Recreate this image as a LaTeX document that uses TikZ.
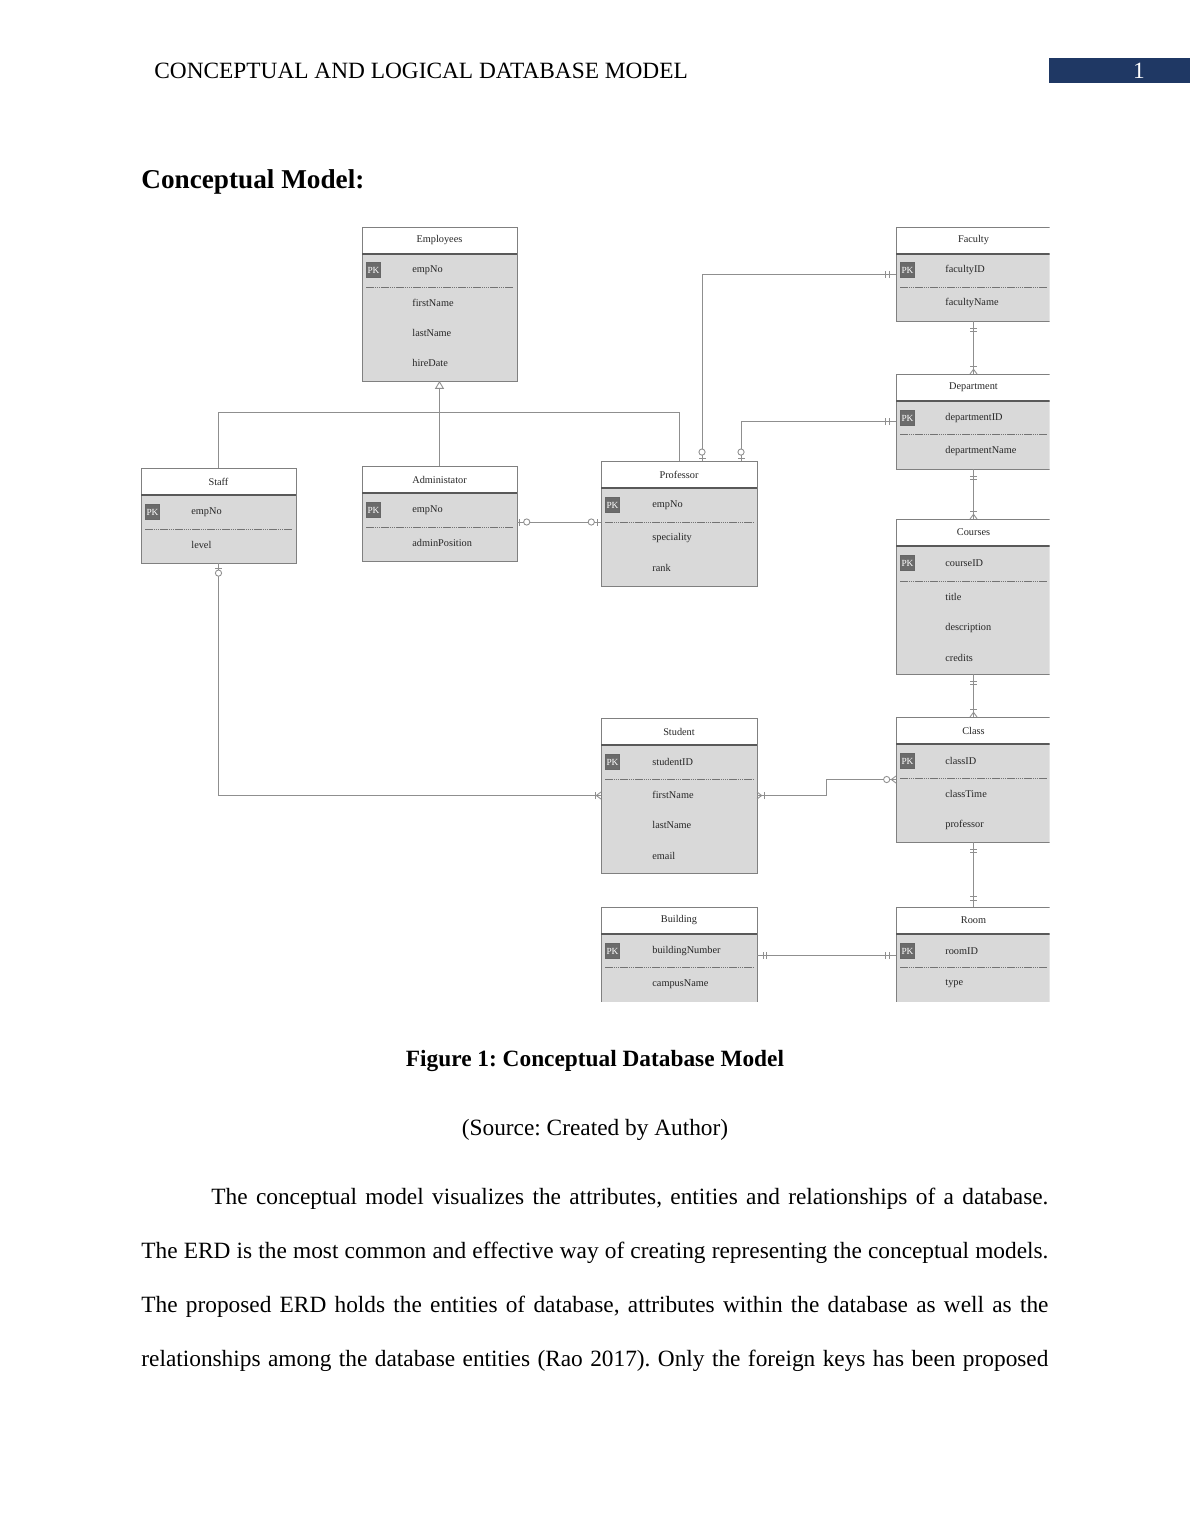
\documentclass[tikz,border=0pt]{standalone}
\usepackage{fontspec}
\setmainfont{Liberation Serif}
\frenchspacing
\usetikzlibrary{fit,calc,decorations.markings,arrows.meta}
\definecolor{hdrblue}{HTML}{1F3864}
\definecolor{bodyfill}{HTML}{D9D9D9}
\definecolor{bordercol}{HTML}{808080}
\definecolor{conncol}{HTML}{8F8F8F}
\definecolor{pkfill}{HTML}{6B6B6B}
\tikzset{
  entbox/.style={draw=bordercol, line width=0.5pt, inner sep=0pt, outer sep=0pt, rectangle},
  hdrline/.style={draw=black!65, line width=0.6pt},
  enttitle/.style={font=\fontsize{5.3}{6}\selectfont, text=black!85, inner sep=0pt},
  attrtext/.style={font=\fontsize{5.3}{6}\selectfont, text=black!85, inner sep=0pt, anchor=west},
  pkbox/.style={fill=pkfill, draw=black!60, line width=0.4pt, minimum width=7.5pt, minimum height=7.5pt, inner sep=0pt, font=\fontsize{4.8}{5}\selectfont, text=white},
  sepline/.style={draw=black!55, line width=0.4pt, dash pattern=on 0.8pt off 0.3pt},
  conn/.style={draw=conncol, line width=0.45pt},
  barAt/.style={postaction={decorate, decoration={markings, mark=at position #1 with {\draw[conn] (0,-1.8pt) -- (0,1.8pt);}}}},
  circAt/.style={postaction={decorate, decoration={markings, mark=at position #1 with {\draw[conn, fill=white] (0,0) circle (1.6pt);}}}},
  crowEnd/.style={postaction={decorate, decoration={markings, mark=at position -0.01pt with {\draw[conn] (0,1.8pt) -- (-2.4pt,0) -- (0,-1.8pt);}}}},
  crowStart/.style={postaction={decorate, decoration={markings, mark=at position 0.01pt with {\draw[conn] (0,1.8pt) -- (2.4pt,0) -- (0,-1.8pt);}}}},
  pagetext/.style={font=\fontsize{12}{14}\selectfont, inner sep=0pt},
}
% #1 id, #2 x1, #3 y1, #4 x2, #5 y2, #6 header bottom, #7 title
\newcommand\ent[7]{%
  \coordinate (#1-nw) at (#2,#3);
  \coordinate (#1-se) at (#4,#5);
  \fill[bodyfill] (#2,#6) rectangle (#4,#5);
  \node[entbox, fit=(#1-nw)(#1-se)] (#1) {};
  \draw[hdrline] (#2,#6) -- (#4,#6);
  \node[enttitle] (#1-t) at ({(#2+#4)/2},{(#3+#6)/2}) {#7};
}
% #1 id, #2 x1, #3 y
\newcommand\pk[3]{\node[pkbox] (#1-pk) at ({#2+11.5},#3) {PK};}
% #1 x1, #2 x2, #3 y
\newcommand\sep[3]{\draw[sepline] ({#1+4},#3) -- ({#2-4},#3);}
% #1 name, #2 x, #3 y, #4 text
\newcommand\attr[4]{\node[attrtext] (#1) at (#2,#3) {#4};}
\begin{document}
\begin{tikzpicture}[x=0.51429pt, y=-0.51429pt]
\useasboundingbox (0,0) rectangle (1190,1540);
\fill[white] (0,0) rectangle (1190,1540);
% page header
\node[pagetext, anchor=base west] (hdr) at (154,78) {CONCEPTUAL AND LOGICAL DATABASE MODEL};
\fill[hdrblue] (1049,58) rectangle (1190,83);
\node[pagetext, anchor=base, text=white] (pgno) at (1139,78) {1};
\node[anchor=base west, inner sep=0pt, font=\fontsize{14}{16}\selectfont\bfseries] (ttl) at (141,188) {Conceptual Model:};

\begin{scope}
\clip (130,215) rectangle (1049.5,1001.5);
% Employees
\ent{emp}{362}{227}{517}{381}{254}{Employees}
\pk{emp}{362}{270}
\attr{emp-a1}{412}{270}{empNo}
\sep{362}{517}{287}
\attr{emp-a2}{412}{303}{firstName}
\attr{emp-a3}{412}{333}{lastName}
\attr{emp-a4}{412}{363}{hireDate}
% Staff
\ent{staff}{141}{468}{296}{563}{495}{Staff}
\pk{staff}{141}{512}
\attr{staff-a1}{191}{512}{empNo}
\sep{141}{296}{529}
\attr{staff-a2}{191}{545}{level}
% Administrator
\ent{admin}{362}{466}{517}{561}{493}{Administator}
\pk{admin}{362}{510}
\attr{admin-a1}{412}{510}{empNo}
\sep{362}{517}{527}
\attr{admin-a2}{412}{543}{adminPosition}
% Professor
\ent{prof}{601}{461}{757}{586}{488}{Professor}
\pk{prof}{601}{505}
\attr{prof-a1}{652}{505}{empNo}
\sep{601}{757}{522}
\attr{prof-a2}{652}{538}{speciality}
\attr{prof-a3}{652}{568}{rank}
% Faculty
\ent{fac}{896}{227}{1051}{321}{254}{Faculty}
\pk{fac}{896}{270}
\attr{fac-a1}{945}{270}{facultyID}
\sep{896}{1051}{287}
\attr{fac-a2}{945}{303}{facultyName}
% Department
\ent{dep}{896}{374}{1051}{469}{401}{Department}
\pk{dep}{896}{418}
\attr{dep-a1}{945}{418}{departmentID}
\sep{896}{1051}{434}
\attr{dep-a2}{945}{451}{departmentName}
% Courses
\ent{cour}{896}{519}{1051}{674}{546}{Courses}
\pk{cour}{896}{563}
\attr{cour-a1}{945}{563}{courseID}
\sep{896}{1051}{581}
\attr{cour-a2}{945}{597}{title}
\attr{cour-a3}{945}{628}{description}
\attr{cour-a4}{945}{658}{credits}
% Class
\ent{cls}{896}{717}{1051}{842}{744}{Class}
\pk{cls}{896}{761}
\attr{cls-a1}{945}{761}{classID}
\sep{896}{1051}{778}
\attr{cls-a2}{945}{794}{classTime}
\attr{cls-a3}{945}{825}{professor}
% Student
\ent{stud}{601}{718}{757}{873}{745}{Student}
\pk{stud}{601}{762}
\attr{stud-a1}{652}{762}{studentID}
\sep{601}{757}{779}
\attr{stud-a2}{652}{795}{firstName}
\attr{stud-a3}{652}{825}{lastName}
\attr{stud-a4}{652}{856}{email}
% Building
\ent{bld}{601}{907}{757}{1003}{934}{Building}
\pk{bld}{601}{951}
\attr{bld-a1}{652}{951}{buildingNumber}
\sep{601}{757}{967}
\attr{bld-a2}{652}{984}{campusName}
% Room
\ent{room}{896}{907}{1051}{1003}{934}{Room}
\pk{room}{896}{951}
\attr{room-a1}{945}{951}{roomID}
\sep{896}{1051}{967}
\attr{room-a2}{945}{984}{type}

% connectors
\coordinate (inhY) at (0,412);
\draw[conn] (staff.north) |- (inhY -| prof.north) -- (prof.north);
\draw[conn, -{Triangle[open, length=4pt, width=4.6pt]}] (admin.north) -- (emp.south);

\draw[conn, barAt=1.5pt, circAt=4.6pt, barAt=-3.6pt, barAt=-5.2pt] ($(prof.north)+(23,0)$) |- (fac.west);
\draw[conn, barAt=1.5pt, circAt=4.6pt, barAt=-3.6pt, barAt=-5.2pt] ($(prof.north)+(62,0)$) |- (dep.west);

\draw[conn, barAt=3.6pt, barAt=5.2pt, crowEnd, barAt=-4pt] (fac.south) -- (dep.north);
\draw[conn, barAt=3.6pt, barAt=5.2pt, crowEnd, barAt=-4pt] (dep.south) -- (cour.north);
\draw[conn, barAt=3.6pt, barAt=5.2pt, crowEnd, barAt=-4pt] (cour.south) -- (cls.north);
\draw[conn, barAt=3.6pt, barAt=5.2pt, barAt=-3.6pt, barAt=-5.2pt] (cls.south) -- (room.north);

\coordinate (ap) at ($(admin.east)+(0,8.5)$);
\draw[conn, barAt=1.5pt, circAt=5pt, barAt=-2pt, circAt=-5pt] (ap) -- (ap -| prof.west);

\draw[conn, barAt=2.6pt, circAt=5.2pt, barAt=-3pt, crowEnd] (staff.south) |- (stud.west);
\draw[conn, crowStart, barAt=4pt, circAt=-4.8pt, crowEnd] (stud.east) -- ++(69,0) |- (cls.west);
\draw[conn, barAt=3.5pt, barAt=5pt, barAt=-3.5pt, barAt=-5.2pt] (bld.east) -- (room.west);
\end{scope}

% caption
\node[pagetext, anchor=base, font=\fontsize{12}{14}\selectfont\bfseries] (cap) at (595,1066) {Figure 1: Conceptual Database Model};
\node[pagetext, anchor=base] (src) at (595,1135) {(Source: Created by Author)};
% paragraph
\node[pagetext, anchor=base west] (l1) at (211,1204) {\makebox[430.5pt][s]{The conceptual model visualizes the attributes, entities and relationships of a database.}};
\node[pagetext, anchor=base west] (l2) at (141,1258) {\makebox[466.5pt][s]{The ERD is the most common and effective way of creating representing the conceptual models.}};
\node[pagetext, anchor=base west] (l3) at (141,1312) {\makebox[466.5pt][s]{The proposed ERD holds the entities of database, attributes within the database as well as the}};
\node[pagetext, anchor=base west] (l4) at (141,1366) {\makebox[466.5pt][s]{relationships among the database entities (Rao 2017). Only the foreign keys has been proposed}};
\end{tikzpicture}
\end{document}
